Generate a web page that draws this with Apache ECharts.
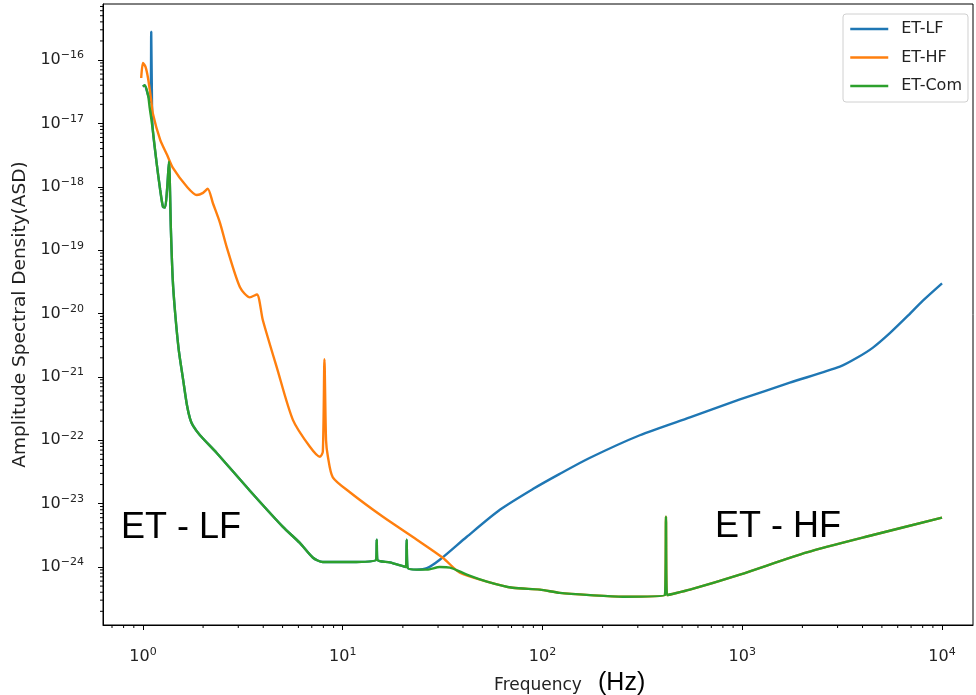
<!DOCTYPE html>
<html>
<head>
<meta charset="utf-8">
<script src="https://cdn.jsdelivr.net/npm/echarts@6/dist/echarts.min.js"></script>
<style>
  html, body { margin: 0; padding: 0; background: #fff; }
  #chart { width: 976px; height: 695px; }
</style>
</head>
<body>
<div id="chart"></div>
<script>
// ET-LF (blue)
const freqLF = [1.0, 1.02, 1.06, 1.09, 1.10, 1.11, 1.12, 1.17, 1.22, 1.26, 1.29, 1.32, 1.35, 1.38, 1.41, 1.45, 1.51, 1.59, 1.66, 1.72, 1.78, 1.93, 2.34, 3.43, 5.02, 6.1, 7.1, 7.94, 10.9, 14.7, 14.8, 14.9, 17.2, 20.7, 20.9, 21.1, 23.5, 26.4, 30.6, 41.8, 61.2, 89.5, 122, 173, 307, 547, 973, 1730, 3080, 3750, 4510, 5480, 6670, 8020, 10000];
const asdLF = [3.8e-17, 4.0e-17, 2.8e-17, 2.2e-17, 2.8e-16, 1.9e-17, 7.9e-18, 2.4e-18, 8.9e-19, 4.8e-19, 4.7e-19, 8.9e-19, 2.5e-18, 2.1e-19, 3.4e-20, 1.0e-20, 2.7e-21, 8.9e-22, 3.6e-22, 2.2e-22, 1.7e-22, 1.2e-22, 6.3e-23, 1.6e-23, 4.3e-24, 2.4e-24, 1.4e-24, 1.2e-24, 1.2e-24, 1.3e-24, 2.7e-24, 1.3e-24, 1.18e-24, 1.0e-24, 2.7e-24, 9.8e-25, 9.1e-25, 9.6e-25, 1.3e-24, 3.0e-24, 8.0e-24, 1.7e-23, 2.95e-23, 5.3e-23, 1.2e-22, 2.3e-22, 4.4e-22, 8.1e-22, 1.45e-21, 2.0e-21, 2.9e-21, 4.9e-21, 8.9e-21, 1.6e-20, 3.0e-20];

// ET-HF (orange)
const freqHF = [0.98, 1.0, 1.03, 1.06, 1.10, 1.12, 1.22, 1.32, 1.41, 1.66, 1.86, 2.0, 2.11, 2.24, 2.43, 2.63, 3.06, 3.43, 3.72, 3.98, 4.68, 5.63, 6.85, 7.69, 7.95, 8.1, 8.25, 8.43, 8.92, 10.9, 15.9, 23.5, 31.7, 38.6, 52.7, 70.9, 97, 122, 173, 253, 410, 415, 420, 547, 973, 2105, 4508, 10000];
const asdHF = [5.2e-17, 9.0e-17, 7.8e-17, 5.2e-17, 2.3e-17, 1.45e-17, 5.5e-18, 3.2e-18, 2.0e-18, 1.0e-18, 7.4e-19, 8.0e-19, 9.3e-19, 5.5e-19, 2.7e-19, 1.1e-19, 2.6e-20, 1.8e-20, 2.0e-20, 7.9e-21, 1.4e-21, 2.1e-22, 7.9e-23, 5.5e-23, 6.6e-23, 1.9e-21, 1.0e-22, 5.5e-23, 2.6e-23, 1.5e-23, 6.2e-24, 2.7e-24, 1.4e-24, 8.1e-25, 5.9e-25, 4.7e-25, 4.4e-25, 3.9e-25, 3.6e-25, 3.4e-25, 3.6e-25, 6.2e-24, 3.6e-25, 4.4e-25, 7.6e-25, 1.7e-24, 3.2e-24, 6.0e-24];

// ET-Com (green)
const freqCom = [1.0, 1.02, 1.06, 1.08, 1.12, 1.17, 1.22, 1.26, 1.29, 1.32, 1.35, 1.38, 1.41, 1.45, 1.51, 1.59, 1.66, 1.72, 1.78, 1.93, 2.34, 3.43, 5.02, 6.1, 7.1, 7.94, 10.9, 14.7, 14.8, 14.9, 17.2, 20.7, 20.9, 21.1, 23.5, 26.4, 30.6, 34.4, 41.8, 52.7, 70.9, 97, 122, 173, 253, 410, 415, 420, 547, 973, 2105, 4508, 10000];
const asdCom = [3.8e-17, 4.0e-17, 2.8e-17, 1.8e-17, 7.9e-18, 2.4e-18, 8.9e-19, 4.8e-19, 4.7e-19, 8.9e-19, 2.5e-18, 2.1e-19, 3.4e-20, 1.0e-20, 2.7e-21, 8.9e-22, 3.6e-22, 2.2e-22, 1.7e-22, 1.2e-22, 6.3e-23, 1.6e-23, 4.3e-24, 2.4e-24, 1.4e-24, 1.2e-24, 1.2e-24, 1.3e-24, 2.7e-24, 1.3e-24, 1.18e-24, 1.0e-24, 2.7e-24, 9.8e-25, 9.1e-25, 9.1e-25, 1.0e-24, 9.8e-25, 7.6e-25, 5.9e-25, 4.7e-25, 4.4e-25, 3.9e-25, 3.6e-25, 3.4e-25, 3.6e-25, 6.2e-24, 3.6e-25, 4.4e-25, 7.6e-25, 1.7e-24, 3.2e-24, 6.0e-24];

const seriesNames = ['ET-LF', 'ET-HF', 'ET-Com'];
const seriesColors = ['#1f77b4', '#ff7f0e', '#2ca02c'];

// axis ticks
const xTickValues = [1, 10, 100, 1000, 10000];
const yTickValues = [1e-24, 1e-23, 1e-22, 1e-21, 1e-20, 1e-19, 1e-18, 1e-17, 1e-16];

const xMin = Math.pow(10, -0.2), xMax = Math.pow(10, 4.155);
const yMin = Math.pow(10, -24.915), yMax = Math.pow(10, -15.116);

function minorTicks(d0, d1, lo, hi) {
  const out = [];
  for (let d = d0; d <= d1; d++) {
    for (let k = 2; k <= 9; k++) {
      const v = k * Math.pow(10, d);
      if (v > lo && v < hi) out.push(v);
    }
  }
  return out;
}

function sciLabel(v) {
  const e = Math.round(Math.log10(v));
  return '{b|10}{s|' + (e < 0 ? '\u2212' + (-e) : e) + '}';
}

function pairs(fs, vs) {
  return fs.map((f, i) => [f, vs[i]]);
}

// short minor tick marks, positioned through the axes' own mapping
function tickSeries(values, onX) {
  return {
    type: 'custom', silent: true, z: 5,
    data: values.map(v => onX ? [v, 1e-20] : [1, v]),
    renderItem: function (params, api) {
      const cs = params.coordSys;
      const p = api.coord([api.value(0), api.value(1)]);
      const shape = onX
        ? { x1: p[0], y1: cs.y + cs.height, x2: p[0], y2: cs.y + cs.height + 3 }
        : { x1: cs.x, y1: p[1], x2: cs.x - 3, y2: p[1] };
      return { type: 'line', shape: shape, style: { stroke: '#000', lineWidth: 1 } };
    }
  };
}

const font = 'DejaVu Sans';
const labelRich = {
  b: { fontFamily: font, fontSize: 16, color: '#222', lineHeight: 20 },
  s: { fontFamily: font, fontSize: 11, color: '#222', lineHeight: 13, verticalAlign: 'top' }
};

const chart = echarts.init(document.getElementById('chart'));

const lineSeries = [
  { name: seriesNames[0], data: pairs(freqLF, asdLF) },
  { name: seriesNames[1], data: pairs(freqHF, asdHF) },
  { name: seriesNames[2], data: pairs(freqCom, asdCom) }
].map((s, i) => Object.assign({
  type: 'line',
  symbol: 'none',
  smooth: 0.25,
  color: seriesColors[i],
  lineStyle: { width: 2.4, color: seriesColors[i] }
}, s));

const option = {
  animation: false,
  grid: {
    left: 103, right: 3, top: 4, bottom: 70,
    outerBoundsMode: 'none',
    show: true, borderColor: '#000', borderWidth: 1, backgroundColor: '#fff'
  },
  legend: {
    orient: 'vertical',
    left: 843, top: 14,
    padding: [7, 6, 8, 6],
    itemWidth: 38, itemHeight: 16, itemGap: 12.5,
    itemStyle: { opacity: 0 },
    lineStyle: { width: 2.5 },
    backgroundColor: '#fff', borderColor: '#d0d0d0', borderWidth: 1, borderRadius: 3,
    textStyle: { fontFamily: font, fontSize: 16, color: '#222', padding: [0, 0, 0, 8] },
    data: seriesNames
  },
  xAxis: {
    type: 'log', min: xMin, max: xMax,
    name: 'Frequency', nameLocation: 'middle', nameGap: 52,
    nameTextStyle: { fontFamily: font, fontSize: 17, color: '#222' },
    axisLine: { show: true, lineStyle: { color: '#000', width: 1 } },
    axisTick: { show: true, customValues: xTickValues, length: 5, lineStyle: { color: '#000' } },
    axisLabel: { customValues: xTickValues, margin: 22, formatter: sciLabel, rich: labelRich },
    splitLine: { show: false }
  },
  yAxis: {
    type: 'log', min: yMin, max: yMax,
    name: 'Amplitude Spectral Density(ASD)', nameLocation: 'middle', nameGap: 72,
    nameTextStyle: { fontFamily: font, fontSize: 18.5, color: '#222' },
    axisLine: { show: true, lineStyle: { color: '#000', width: 1 } },
    axisTick: { show: true, customValues: yTickValues, length: 5, lineStyle: { color: '#000' } },
    axisLabel: { customValues: yTickValues, margin: 19, formatter: sciLabel, rich: labelRich },
    splitLine: { show: false }
  },
  series: lineSeries.concat([
    tickSeries(minorTicks(-1, 4, xMin, xMax), true),
    tickSeries(minorTicks(-25, -16, yMin, yMax), false)
  ]),
  graphic: [
    { type: 'text', x: 121, y: 528, style: { text: 'ET - LF', font: '36px "Liberation Sans"', fill: '#000', verticalAlign: 'middle' } },
    { type: 'text', x: 715, y: 527, style: { text: 'ET - HF', font: '36px "Liberation Sans"', fill: '#000', verticalAlign: 'middle' } },
    { type: 'text', x: 598, y: 683, style: { text: '(Hz)', font: '25px "Liberation Sans"', fill: '#000', verticalAlign: 'middle' } }
  ]
};

chart.setOption(option);
</script>
</body>
</html>
